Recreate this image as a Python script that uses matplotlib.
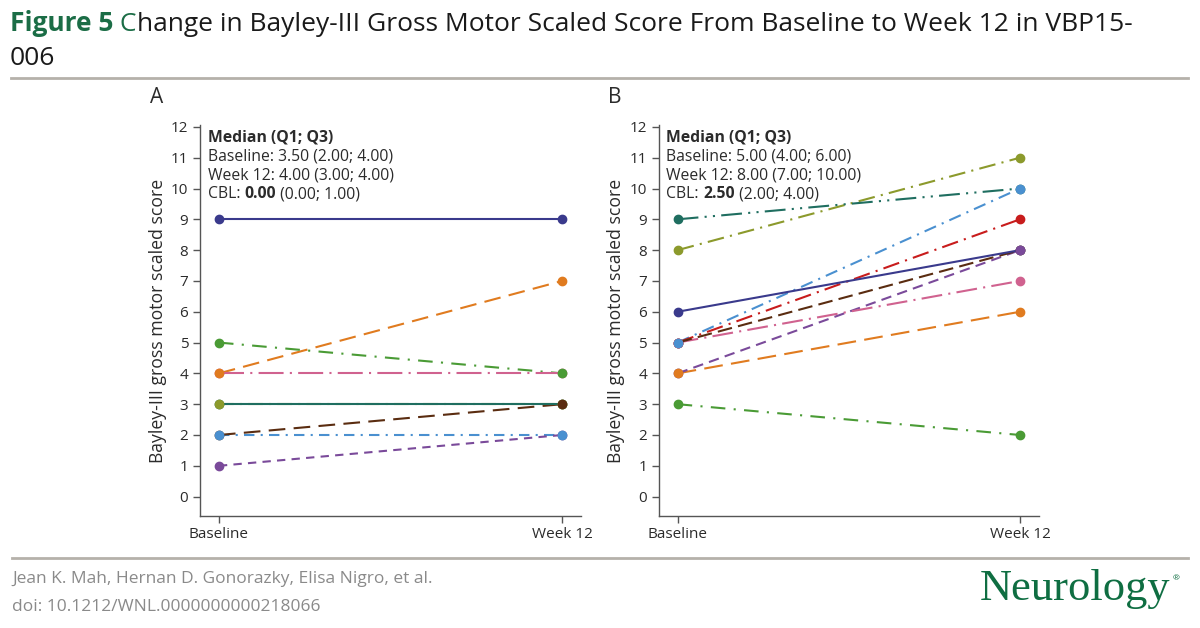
import matplotlib.pyplot as plt

plt.rcParams['font.family'] = ['Open Sans', 'DejaVu Sans']

# --- data ---
timepoints = ['Baseline', 'Week 12']

# panel A: one entry per subject (baseline, week 12)
a_baseline = [9, 4, 5, 4, 2, 2, 3, 3, 1]
a_week12 = [9, 7, 4, 4, 2, 3, 3, 3, 2]
a_colors = ['#3a3a8c', '#e07b1f', '#4a9b35', '#d0628f', '#4a90d0',
            '#5a2c10', '#8c9a2c', '#1f6e60', '#7a4a9a']
a_styles = ['-', (0, (8, 4)), (0, (7, 4, 1, 4)), (0, (12, 3, 1, 3)), (0, (5, 3, 1, 3)),
            (0, (8, 4)), (0, (7, 3, 1, 3)), '-', (0, (4, 3))]

# panel B
b_baseline = [8, 5, 9, 4, 4, 5, 5, 5, 6, 3]
b_week12 = [11, 10, 10, 6, 8, 7, 9, 8, 8, 2]
b_colors = ['#8c9a2c', '#4a90d0', '#1f6e60', '#e07b1f', '#7a4a9a',
            '#d0628f', '#c81c1c', '#5a2c10', '#3a3a8c', '#4a9b35']
b_styles = [(0, (8, 3, 1, 3)), (0, (6, 3, 1, 3)), (0, (10, 3, 1, 3, 1, 3)), (0, (9, 4)),
            (0, (5, 3)), (0, (10, 3, 1, 3)), (0, (8, 3, 1, 3)), (0, (7, 3)), '-', (0, (7, 4, 1, 4))]

a_stats = ['Baseline: 3.50 (2.00; 4.00)', 'Week 12: 4.00 (3.00; 4.00)', ('0.00', '(0.00; 1.00)')]
b_stats = ['Baseline: 5.00 (4.00; 6.00)', 'Week 12: 8.00 (7.00; 10.00)', ('2.50', '(2.00; 4.00)')]

GREEN = '#1b6d46'
GRAY = '#b5b1aa'
TXT = '#2b2b2b'
FS = 11.3

fig = plt.figure(figsize=(12, 6.28), dpi=100)


def draw_panel(ax, base, week, colors, styles, stats, letter):
    x = [0, 1]
    for b, w, c, s in zip(base, week, colors, styles):
        ax.plot(x, [b, w], color=c, linestyle=s, linewidth=1.5, zorder=2)
    # markers in reverse so first subject sits on top
    for b, w, c in reversed(list(zip(base, week, colors))):
        ax.plot(x, [b, w], linestyle='none', marker='o', markersize=6,
                color=c, zorder=3)

    ax.set_xlim(-0.055, 1.055)
    ax.set_ylim(-0.63, 12.06)
    ax.set_xticks(x)
    ax.set_xticklabels(timepoints)
    ax.set_yticks(range(0, 13))
    ax.set_ylabel('Bayley-III gross motor scaled score', fontsize=12.7, color=TXT, labelpad=3)
    for side in ['top', 'right']:
        ax.spines[side].set_visible(False)
    for side in ['left', 'bottom']:
        ax.spines[side].set_color('#555555')
        ax.spines[side].set_linewidth(1.0)
    ax.tick_params(colors='#555555', labelcolor=TXT, labelsize=11, length=5, width=1)
    ax.tick_params(axis='x', pad=3)

    # median box
    ax.text(0.02, 0.988, 'Median (Q1; Q3)', transform=ax.transAxes, fontsize=FS,
            fontweight='bold', color=TXT, va='top', ha='left')
    ax.text(0.02, 0.940, stats[0], transform=ax.transAxes, fontsize=FS, color=TXT, va='top')
    ax.text(0.02, 0.892, stats[1], transform=ax.transAxes, fontsize=FS, color=TXT, va='top')
    c1 = ax.text(0.02, 0.844, 'CBL: ', transform=ax.transAxes, fontsize=FS, color=TXT, va='top')
    c2 = ax.annotate(stats[2][0], xy=(1, 0), xycoords=c1, fontsize=FS, fontweight='bold',
                     color=TXT, va='bottom', ha='left')
    ax.annotate(' ' + stats[2][1], xy=(1, 0), xycoords=c2, fontsize=FS,
                color=TXT, va='bottom', ha='left')

    ax.text(-0.115, 1.07, letter, transform=ax.transAxes, fontsize=15, color=TXT,
            va='center', ha='center')


ax_a = fig.add_axes([0.1667, 0.1783, 0.3175, 0.6226])
draw_panel(ax_a, a_baseline, a_week12, a_colors, a_styles, a_stats, 'A')
ax_b = fig.add_axes([0.549, 0.1783, 0.3167, 0.6226])
draw_panel(ax_b, b_baseline, b_week12, b_colors, b_styles, b_stats, 'B')

# title with coloured pieces
TFS = 19
t1 = fig.text(0.008, 0.962, 'Figure 5', fontsize=TFS, fontweight='bold', color=GREEN,
              va='center', ha='left')
t2 = fig.text(0, 0, ' C', fontsize=TFS, color=GREEN, va='bottom', ha='left')
t2.remove()
t2 = plt.annotate(' C', xy=(1, 0), xycoords=t1, fontsize=TFS, color=GREEN, va='bottom', ha='left',
                  annotation_clip=False)
plt.annotate('hange in Bayley-III Gross Motor Scaled Score From Baseline to Week 12 in VBP15-',
             xy=(1, 0), xycoords=t2, fontsize=TFS, color='#1a1a1a', va='bottom', ha='left',
             annotation_clip=False)
fig.text(0.008, 0.907, '006', fontsize=TFS, color='#1a1a1a', va='center', ha='left')

# rules
fig.add_artist(plt.Line2D([0.009, 0.99], [0.876, 0.876], color=GRAY, linewidth=2))
fig.add_artist(plt.Line2D([0.01, 0.99], [0.112, 0.112], color=GRAY, linewidth=2))

# footer
fig.text(0.01, 0.078, 'Jean K. Mah, Hernan D. Gonorazky, Elisa Nigro, et al.', fontsize=12.5,
         color='#8a8a8a', va='center', ha='left')
fig.text(0.01, 0.033, 'doi: 10.1212/WNL.0000000000218066', fontsize=12.5,
         color='#8a8a8a', va='center', ha='left')
fig.text(0.975, 0.062, 'Neurology', fontsize=32, family='Liberation Serif',
         color='#0f6e42', va='center', ha='right')
fig.text(0.977, 0.078, '®', fontsize=6, color='#0f6e42', va='center', ha='left')

fig.savefig('out.png', dpi=100)
